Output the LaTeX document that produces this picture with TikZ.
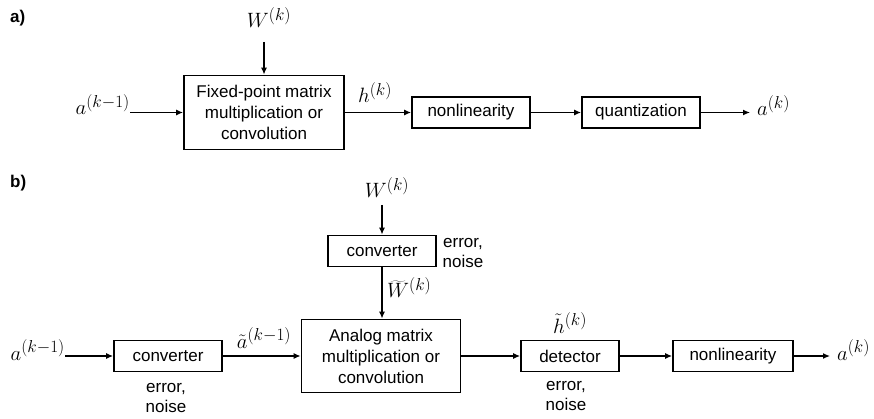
\documentclass[tikz,border=0pt]{standalone}
\usepackage{fontspec}
\setmainfont{Liberation Sans}
\DeclareMathSizes{22}{22}{17}{13}
\usetikzlibrary{arrows.meta}
\begin{document}
\begin{tikzpicture}[x=1pt,y=-1pt,
  blk/.style={draw,line width=1.8pt,minimum height=31pt,inner sep=0pt,font=\fontsize{17}{21}\selectfont,align=center},
  arr/.style={line width=1.3pt,-{Latex[length=7pt,width=6pt]}},
  mlab/.style={inner sep=0pt,font=\fontsize{22}{26}\selectfont},
  note/.style={inner sep=0pt,font=\fontsize{17}{20}\selectfont,align=center},
  panel/.style={inner sep=0pt,font=\fontsize{17}{20}\selectfont\bfseries}]
\useasboundingbox (0,0) rectangle (874,419);
% ---------- panel a ----------
\node[panel,anchor=west] (pa) at (10,18) {a)};
\node[blk,minimum width=160pt,minimum height=74pt] (fx) at (264,112.5) {Fixed-point matrix\\multiplication or\\convolution};
\node[mlab,anchor=base] (wa) at (269,28) {$W^{(k)}$};
\coordinate (wa0) at (264,42);
\draw[arr] (wa0) -- (fx.north);
\node[mlab,anchor=base east] (ain) at (130,115) {$a^{(k-1)}$};
\draw[arr] (ain.east |- fx.west) -- (fx.west);
\node[blk,minimum width=118pt] (nl1) at (471,112.5) {nonlinearity};
\node[mlab,anchor=base] (ha) at (375,103) {$h^{(k)}$};
\draw[arr] (fx.east) -- (nl1.west);
\node[blk,minimum width=118pt] (q1) at (641,112.5) {quantization};
\draw[arr] (nl1) -- (q1);
\node[mlab,anchor=base west] (aout1) at (757,116) {$a^{(k)}$};
\draw[arr,shorten >=7pt] (q1.east) -- (aout1.west |- q1.east);
% ---------- panel b ----------
\node[panel,anchor=west] (pb) at (10,183) {b)};
\node[mlab,anchor=base] (wb) at (387,198) {$W^{(k)}$};
\node[blk,minimum width=108pt] (cT) at (382,251) {converter};
\coordinate (wb0) at (382,205);
\draw[arr] (wb0) -- (cT.north);
\node[note] (enT) at (463,253) {error,\\noise};
\node[blk,minimum width=159pt,minimum height=73pt] (an) at (381,356) {Analog matrix\\multiplication or\\convolution};
\draw[arr] (cT.south) -- (cT.south |- an.north);
\node[mlab,anchor=base west] (wt) at (387,298) {$\widetilde{W}^{(k)}$};
\node[mlab,anchor=base east] (ainb) at (65,360) {$a^{(k-1)}$};
\node[blk,minimum width=108pt] (cL) at (168,356) {converter};
\draw[arr] (ainb.east |- cL.west) -- (cL.west);
\node[note] (enL) at (166,398) {error,\\noise};
\node[mlab,anchor=base] (at) at (264,348) {$\tilde{a}^{(k-1)}$};
\draw[arr] (cL.east) -- (an.west);
\node[blk,minimum width=98pt] (det) at (570,356) {detector};
\draw[arr] (an.east) -- (det.west);
\node[mlab,anchor=base] (ht) at (570,333) {$\tilde{h}^{(k)}$};
\node[note] (enD) at (566,396) {error,\\noise};
\node[blk,minimum width=120pt] (nl2) at (733,356) {nonlinearity};
\draw[arr] (det) -- (nl2);
\node[mlab,anchor=base west] (aoutb) at (837,360) {$a^{(k)}$};
\draw[arr,shorten >=7pt] (nl2.east) -- (aoutb.west |- nl2.east);
\end{tikzpicture}
\end{document}
